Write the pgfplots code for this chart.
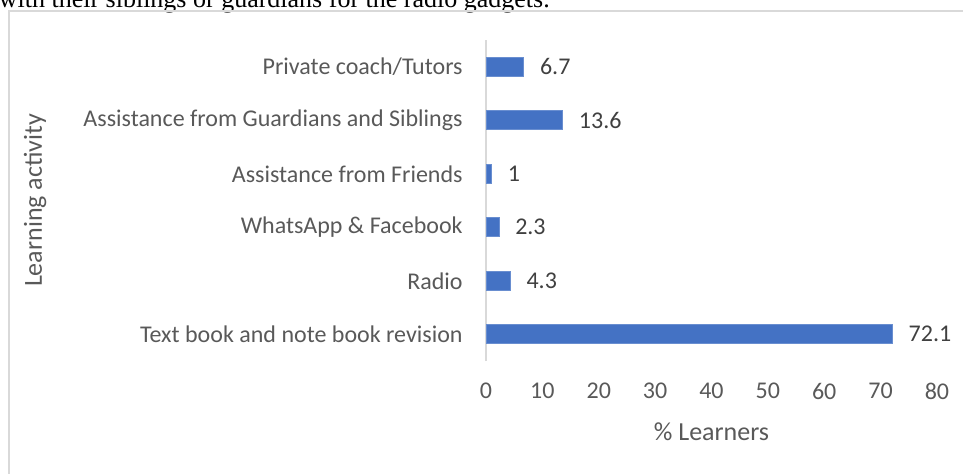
\documentclass[border=0pt]{standalone}
\usepackage{pgfplots}
\pgfplotsset{compat=1.18}
\usepackage{fontspec}
\setmainfont{Carlito}
\newfontfamily\capfont{Liberation Serif}
\definecolor{barblue}{HTML}{4472C4}
\definecolor{txtgrey}{HTML}{595959}
\definecolor{lblgrey}{HTML}{404040}
\definecolor{framegrey}{HTML}{D9D9D9}
\begin{document}
\begin{tikzpicture}
\useasboundingbox (0,0) rectangle (481.5pt,-236.5pt);
\clip (0,0) rectangle (481.5pt,-236.5pt);
% caption fragment (cut off at the top)
\node[anchor=base west, inner sep=0pt, font=\capfont\fontsize{13}{15}\selectfont, text=black] at (-0.8pt,-3.6pt) {with their siblings or guardians for the radio gadgets.};
% frame
\draw[framegrey, line width=1pt] (4.5pt,-240pt) -- (4.5pt,-5.5pt) -- (485pt,-5.5pt);
\begin{axis}[
  at={(243pt,-180.5pt)}, anchor=south west,
  scale only axis, width=225.5pt, height=160.5pt,
  xmin=0, xmax=80, ymin=-0.5, ymax=5.5,
  xtick={0,10,...,80},
  ytick={0,1,2,3,4,5},
  yticklabels={Text book and note book revision, Radio, WhatsApp \& Facebook, Assistance from Friends, Assistance from Guardians and Siblings, Private coach/Tutors},
  axis line style={draw=none},
  major tick length=0pt,
  tick label style={font=\fontsize{12}{14}\selectfont, text=txtgrey},
  xticklabel style={anchor=north, inner sep=0pt, yshift=-11pt},
  yticklabel style={anchor=east, inner sep=0pt, xshift=-11.5pt},
  /pgf/number format/assume math mode=true,
  xlabel={\% Learners},
  ylabel={Learning activity},
  label style={font=\fontsize{13}{15}\selectfont, text=txtgrey},
  xlabel style={at={(axis description cs:0.5,0)}, anchor=north, inner sep=0pt, yshift=-30.5pt},
  ylabel style={at={(axis description cs:-1,0.5)}, anchor=center, inner sep=0pt},
  clip=false,
]
\draw[framegrey, line width=0.9pt] (axis cs:0,-0.5) -- (axis cs:0,5.5);
\addplot[xbar, bar width=9.5pt, fill=barblue, draw=barblue!80!white, line width=0.3pt,
  nodes near coords, point meta=explicit symbolic,
  nodes near coords style={anchor=west, inner sep=0pt, xshift=8pt, font=\fontsize{12}{14}\selectfont, text=lblgrey}]
  table[meta=label] {
  x y label
  72.1 0 72.1
  4.3 1 4.3
  2.3 2 2.3
  1 3 1
  13.6 4 13.6
  6.7 5 6.7
  };
\end{axis}
\end{tikzpicture}
\end{document}
